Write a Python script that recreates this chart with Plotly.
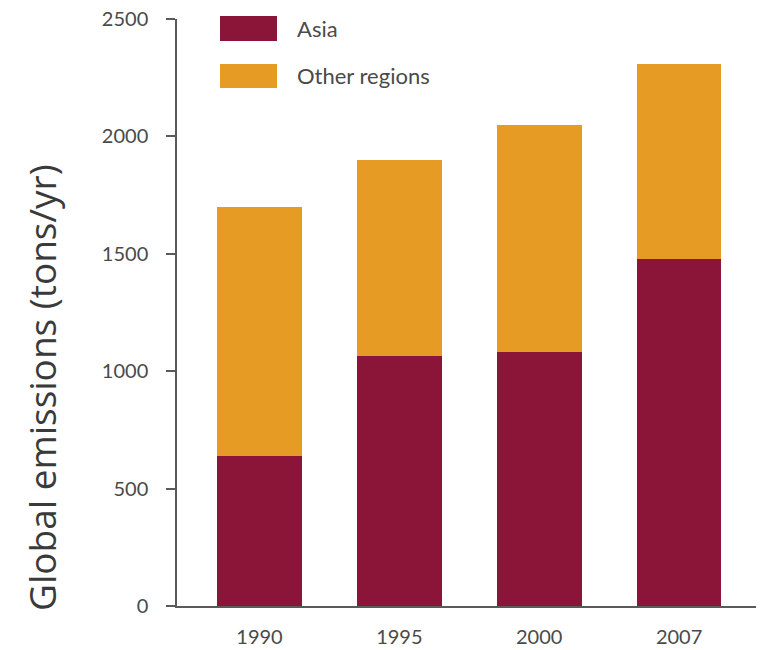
import plotly.graph_objects as go

years = ["1990", "1995", "2000", "2007"]
asia = [640, 1065, 1080, 1480]
other_regions = [1060, 835, 970, 830]
series_names = ["Asia", "Other regions"]
series_colors = ["#8B1538", "#E69C24"]
y_ticks = [0, 500, 1000, 1500, 2000, 2500]

W, H = 760, 650
L, R, T, B = 177, 4, 19, 44
PW, PH = W - L - R, H - T - B

def px_x(px):
    return (px - L) / PW

def px_y(py):
    return (H - B - py) / PH

fig = go.Figure()
for name, vals, col in zip(series_names, [asia, other_regions], series_colors):
    fig.add_trace(go.Bar(x=years, y=vals, name=name, marker=dict(color=col, line=dict(width=0)),
                         showlegend=False))

font_fam = "Lato, 'Open Sans', sans-serif"
text_col = "#4a4a4a"

fig.update_layout(
    width=W, height=H,
    margin=dict(l=L, r=R, t=T, b=B, pad=0, autoexpand=False),
    barmode="stack", bargap=0.395,
    plot_bgcolor="white", paper_bgcolor="white",
    xaxis=dict(type="category", range=[-0.59, 3.55], showgrid=False, zeroline=False,
               showline=True, linecolor="#5a5a5a", linewidth=1.5, ticks="",
               ticklabelstandoff=12, automargin=False,
               tickfont=dict(family=font_fam, size=20, color=text_col)),
    yaxis=dict(range=[0, 2500], tickvals=y_ticks, showgrid=False, zeroline=False,
               showline=True, linecolor="#5a5a5a", linewidth=1.5, ticks="outside",
               ticklen=9, tickwidth=1.5, tickcolor="#5a5a5a", ticklabelstandoff=14,
               automargin=False,
               tickfont=dict(family=font_fam, size=20, color=text_col)),
)

# y-axis title
fig.add_annotation(x=px_x(42), y=px_y(388), xref="paper", yref="paper",
                   text="Global emissions (tons/yr)", textangle=-90, showarrow=False,
                   font=dict(family="'Open Sans', sans-serif", size=37, color="#3a3a3a"),
                   xanchor="center", yanchor="middle")

# legend drawn manually with large swatches
sw_y = [(16, 41), (64, 88)]
for name, col, (y0, y1) in zip(series_names, series_colors, sw_y):
    fig.add_shape(type="rect", xref="paper", yref="paper",
                  x0=px_x(220), x1=px_x(277), y0=px_y(y1), y1=px_y(y0),
                  fillcolor=col, line=dict(width=0))
    fig.add_annotation(x=px_x(295), y=px_y((y0 + y1) / 2), xref="paper", yref="paper",
                       text=name, showarrow=False, xanchor="left", yanchor="middle",
                       font=dict(family=font_fam, size=22, color=text_col))

fig.write_html("out.html")
